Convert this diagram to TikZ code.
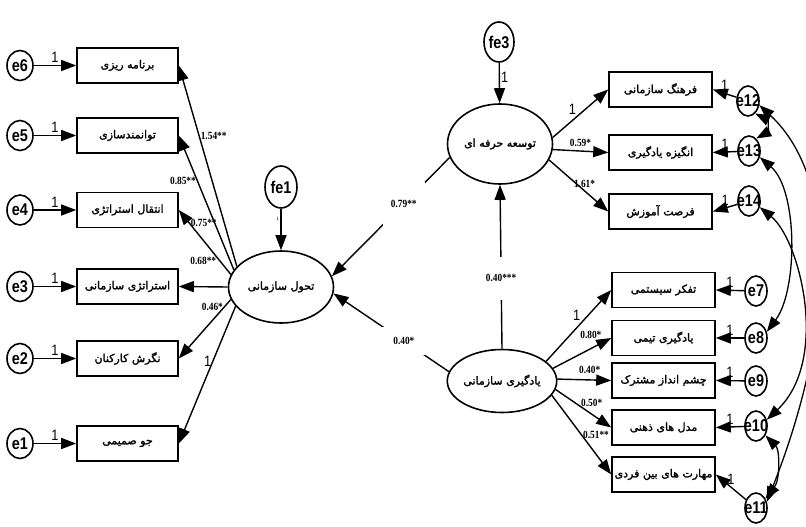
\documentclass[tikz,border=0pt]{standalone}
\usepackage{fontspec}
\TeXXeTstate=1
\newfontfamily\fafont[Script=Arabic, FakeBold=1.8]{DejaVu Sans}
\newfontfamily\numfont[FakeStretch=0.85]{Liberation Serif}
\newfontfamily\eafont[FakeStretch=0.85]{Liberation Sans}
\newcommand\fatext[1]{{\fafont\beginR#1\endR}}
\usetikzlibrary{arrows.meta,shapes.geometric}
\tikzset{
 var/.style={draw, line width=1.6pt, minimum width=101pt, minimum height=35pt, inner sep=1pt, font=\fontsize{11}{11}\selectfont},
 fac/.style={ellipse, draw, line width=1.6pt, inner sep=0pt, minimum width=105pt, font=\fontsize{11}{11}\selectfont},
 err/.style={ellipse, draw, line width=1.6pt, inner sep=0pt, minimum width=26pt, minimum height=30pt, font=\eafont\bfseries\fontsize{17}{17}\selectfont},
 erk/.style={ellipse, draw, line width=1.6pt, inner sep=0pt, minimum width=22pt, minimum height=30pt},
 elab/.style={inner sep=0pt, font=\eafont\bfseries\fontsize{17}{17}\selectfont},
 coef/.style={inner sep=1pt, font=\numfont\bfseries\fontsize{11}{11}\selectfont},
 one/.style={inner sep=1pt, font=\eafont\fontsize{15}{15}\selectfont},
 gap/.style={coef, fill=white},
 reg/.style={->, line width=1.4pt},
 cov/.style={<->, line width=1.3pt},
}
\begin{document}
\begin{tikzpicture}[x=1pt, y=-1pt, >={Triangle[length=15pt,width=11pt]}]
\useasboundingbox (0,0) rectangle (806,527);
\node[fac, minimum height=72pt] (T) at (281,287) {\fatext{تحول سازمانی}};
\node[fac, minimum height=80pt] (P) at (500,144) {\fatext{توسعه حرفه ای}};
\node[fac, minimum height=63pt] (L) at (502,381) {\fatext{یادگیری سازمانی}};
\node[err, minimum width=32pt, minimum height=42pt] (fe1) at (281,187) {fe1};
\node[err, minimum width=30pt, minimum height=40pt] (fe3) at (499,42) {fe3};
\foreach \n/\y/\t in {6/65.5/برنامه ریزی, 5/135.5/توانمندسازی, 4/210/انتقال استراتژی, 3/286.5/استراتژی سازمانی, 2/358.5/نگرش کارکنان, 1/443.5/جو صمیمی}{
 \node[var] (b\n) at (127.5,\y) {\fatext{\t}};
 \node[err] (e\n) at (20,\y) {e\n};
 \draw[reg] (e\n) -- (b\n) node[one, midway, above=1pt] {1};
}
\foreach \n/\y/\t in {12/89.5/فرهنگ سازمانی, 13/152.5/انگیزه یادگیری, 14/211.5/فرصت آموزش}{
 \node[var, minimum width=103pt] (b\n) at (660.5,\y) {\fatext{\t}};
}
\foreach \n/\y/\t in {7/290/تفکر سیستمی, 8/338/یادگیری تیمی, 9/380.5/چشم انداز مشترک, 10/427.5/مدل های ذهنی, 11/474.5/مهارت های بین فردی}{
 \node[var, minimum width=103pt] (b\n) at (663.5,\y) {\fatext{\t}};
}
\foreach \n/\x/\y in {12/748/101, 13/749/151, 14/749/201, 7/756/291, 8/756/338, 9/756/381, 10/756/426, 11/756/508}{
 \node[erk, label={[elab]center:e\n}] (e\n) at (\x,\y) {};
 \draw[reg] (e\n) -- (b\n.east) node[one, midway, above=1pt] {1};
}
\draw[reg] (fe1) -- (T) node[one, pos=.25, left, font=\tiny] {1};
\draw[reg] (fe3) -- (P) node[one, pos=.35, right] {1};
\draw[reg] (T.155) -- (b6.east) node[coef, pos=.65, anchor=west] {1.54**};
\draw[reg] (T.160) -- (b5.east) node[coef, pos=.66, anchor=east] {0.85**};
\draw[reg] (T.166) -- (b4.east) node[coef, pos=.8, anchor=west] {0.75**};
\draw[reg] (T.180) -- (b3.east) node[coef, pos=.5, above=20pt] {0.68**};
\draw[reg] (T.194) -- (b2.east) node[coef, pos=.12, anchor=east] {0.46*};
\draw[reg] (T.203) -- (b1.east) node[one, pos=.4, anchor=east] {1};
\draw[reg] (P.7) -- (b12.west) node[one, pos=.45, anchor=south east] {1};
\draw[reg] (P.-6) -- (b13.west) node[coef, pos=.5, above=3pt] {0.59*};
\draw[reg] (P.-18) -- (b14.west) node[coef, pos=.6, above=2pt] {1.61*};
\draw[reg] (L.24) -- (b7.west) node[one, pos=.55, anchor=south east] {1};
\draw[reg] (L.14) -- (b8.west) node[coef, pos=.65, above=8pt] {0.80*};
\draw[reg] (L.2) -- (b9.west) node[coef, pos=.6, above=5pt] {0.40*};
\draw[reg] (L.-9) -- (b10.west) node[coef, pos=.65, above=6pt] {0.50*};
\draw[reg] (L.-16) -- (b11.west) node[coef, pos=.5, anchor=west] {0.51**};
\draw[reg] (P.195) -- (T.12) node[gap, pos=.39, minimum width=42pt, minimum height=44pt] {0.79**};
\draw[reg] (L.170) -- (T.-7) node[gap, pos=.39, minimum width=44pt, minimum height=28pt] {0.40*};
\draw[reg] (L.north) -- (P.south) node[gap, pos=.43, minimum height=43pt] {0.40***};
\draw[cov] (e12.-60) .. controls (768,120) and (768,132) .. (e13.60);
\draw[cov] (e12.-20) .. controls (840,180) and (835,330) .. (e11.30);
\draw[cov] (e13.-30) .. controls (798,190) and (798,290) .. (e8.30);
\draw[cov] (e14.-30) .. controls (800,240) and (830,360) .. (e10.30);
\draw[cov] (e10.-45) .. controls (780,450) and (780,480) .. (e11.45);
\end{tikzpicture}
\end{document}
